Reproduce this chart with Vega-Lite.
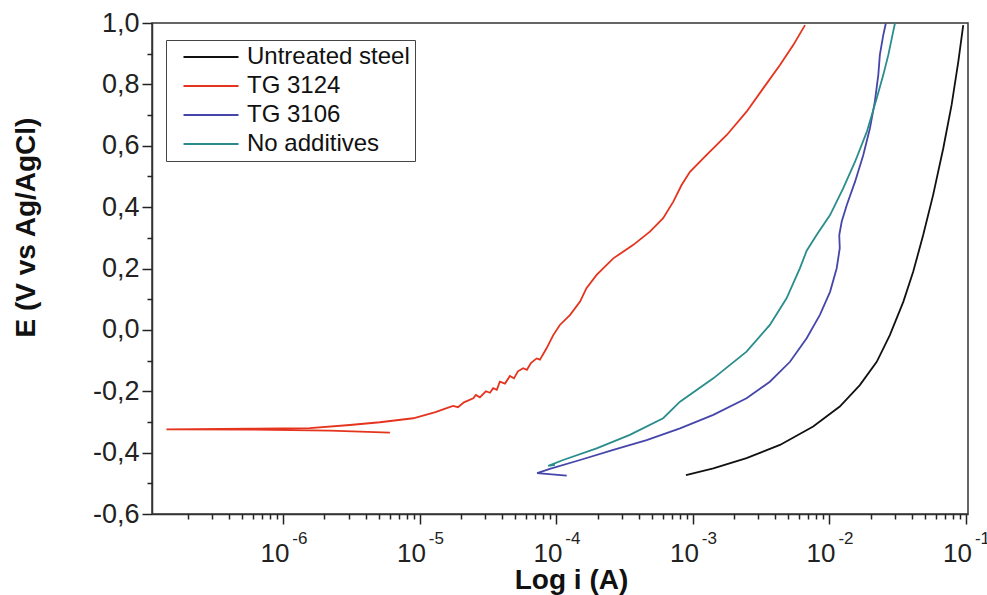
{
  "$schema": "https://vega.github.io/schema/vega-lite/v6.json",
  "width": 816,
  "height": 491,
  "autosize": {"type": "none"},
  "padding": {"left": 152, "top": 23, "right": 19, "bottom": 81},
  "background": "white",
  "config": {
    "font": "Liberation Sans",
    "view": {"stroke": "#333", "strokeWidth": 1.5},
    "axis": {"grid": false, "domainColor": "#333", "domainWidth": 1.5, "tickColor": "#222", "tickWidth": 1.5, "labelColor": "#222", "titleColor": "#111", "labelFlush": false, "labelOverlap": false}
  },
  "data": {"values": [
    {"s": "Untreated steel", "o": 1, "i": 8.89e-4, "E": -0.473},
    {"s": "Untreated steel", "o": 2, "i": 1.41e-3, "E": -0.451},
    {"s": "Untreated steel", "o": 3, "i": 2.47e-3, "E": -0.418},
    {"s": "Untreated steel", "o": 4, "i": 4.34e-3, "E": -0.375},
    {"s": "Untreated steel", "o": 5, "i": 7.60e-3, "E": -0.315},
    {"s": "Untreated steel", "o": 6, "i": 1.19e-2, "E": -0.250},
    {"s": "Untreated steel", "o": 7, "i": 1.67e-2, "E": -0.180},
    {"s": "Untreated steel", "o": 8, "i": 2.22e-2, "E": -0.104},
    {"s": "Untreated steel", "o": 9, "i": 2.77e-2, "E": -0.017},
    {"s": "Untreated steel", "o": 10, "i": 3.48e-2, "E": 0.092},
    {"s": "Untreated steel", "o": 11, "i": 4.11e-2, "E": 0.190},
    {"s": "Untreated steel", "o": 12, "i": 4.86e-2, "E": 0.309},
    {"s": "Untreated steel", "o": 13, "i": 5.75e-2, "E": 0.440},
    {"s": "Untreated steel", "o": 14, "i": 6.82e-2, "E": 0.592},
    {"s": "Untreated steel", "o": 15, "i": 7.85e-2, "E": 0.733},
    {"s": "Untreated steel", "o": 16, "i": 8.79e-2, "E": 0.874},
    {"s": "Untreated steel", "o": 17, "i": 9.55e-2, "E": 0.993},

    {"s": "TG 3124", "o": 1, "i": 6.03e-6, "E": -0.335},
    {"s": "TG 3124", "o": 2, "i": 2.19e-6, "E": -0.328},
    {"s": "TG 3124", "o": 3, "i": 5.69e-7, "E": -0.325},
    {"s": "TG 3124", "o": 4, "i": 1.39e-7, "E": -0.324},
    {"s": "TG 3124", "o": 5, "i": 5.69e-7, "E": -0.322},
    {"s": "TG 3124", "o": 6, "i": 1.56e-6, "E": -0.320},
    {"s": "TG 3124", "o": 7, "i": 3.07e-6, "E": -0.310},
    {"s": "TG 3124", "o": 8, "i": 5.09e-6, "E": -0.301},
    {"s": "TG 3124", "o": 9, "i": 8.93e-6, "E": -0.288},
    {"s": "TG 3124", "o": 10, "i": 1.30e-5, "E": -0.268},
    {"s": "TG 3124", "o": 11, "i": 1.57e-5, "E": -0.255},
    {"s": "TG 3124", "o": 12, "i": 1.75e-5, "E": -0.248},
    {"s": "TG 3124", "o": 13, "i": 1.90e-5, "E": -0.252},
    {"s": "TG 3124", "o": 14, "i": 2.10e-5, "E": -0.236},
    {"s": "TG 3124", "o": 15, "i": 2.46e-5, "E": -0.223},
    {"s": "TG 3124", "o": 16, "i": 2.57e-5, "E": -0.212},
    {"s": "TG 3124", "o": 17, "i": 2.75e-5, "E": -0.220},
    {"s": "TG 3124", "o": 18, "i": 3.04e-5, "E": -0.200},
    {"s": "TG 3124", "o": 19, "i": 3.26e-5, "E": -0.205},
    {"s": "TG 3124", "o": 20, "i": 3.44e-5, "E": -0.190},
    {"s": "TG 3124", "o": 21, "i": 3.66e-5, "E": -0.195},
    {"s": "TG 3124", "o": 22, "i": 3.85e-5, "E": -0.169},
    {"s": "TG 3124", "o": 23, "i": 4.20e-5, "E": -0.175},
    {"s": "TG 3124", "o": 24, "i": 4.56e-5, "E": -0.150},
    {"s": "TG 3124", "o": 25, "i": 4.89e-5, "E": -0.158},
    {"s": "TG 3124", "o": 26, "i": 5.22e-5, "E": -0.135},
    {"s": "TG 3124", "o": 27, "i": 5.71e-5, "E": -0.125},
    {"s": "TG 3124", "o": 28, "i": 6.08e-5, "E": -0.130},
    {"s": "TG 3124", "o": 29, "i": 6.50e-5, "E": -0.108},
    {"s": "TG 3124", "o": 30, "i": 7.16e-5, "E": -0.093},
    {"s": "TG 3124", "o": 31, "i": 7.57e-5, "E": -0.097},
    {"s": "TG 3124", "o": 32, "i": 8.47e-5, "E": -0.060},
    {"s": "TG 3124", "o": 33, "i": 9.48e-5, "E": -0.017},
    {"s": "TG 3124", "o": 34, "i": 1.06e-4, "E": 0.016},
    {"s": "TG 3124", "o": 35, "i": 1.26e-4, "E": 0.049},
    {"s": "TG 3124", "o": 36, "i": 1.49e-4, "E": 0.092},
    {"s": "TG 3124", "o": 37, "i": 1.66e-4, "E": 0.136},
    {"s": "TG 3124", "o": 38, "i": 1.97e-4, "E": 0.179},
    {"s": "TG 3124", "o": 39, "i": 2.61e-4, "E": 0.233},
    {"s": "TG 3124", "o": 40, "i": 3.66e-4, "E": 0.277},
    {"s": "TG 3124", "o": 41, "i": 4.84e-4, "E": 0.320},
    {"s": "TG 3124", "o": 42, "i": 6.05e-4, "E": 0.364},
    {"s": "TG 3124", "o": 43, "i": 7.18e-4, "E": 0.418},
    {"s": "TG 3124", "o": 44, "i": 8.26e-4, "E": 0.472},
    {"s": "TG 3124", "o": 45, "i": 9.51e-4, "E": 0.515},
    {"s": "TG 3124", "o": 46, "i": 1.26e-3, "E": 0.570},
    {"s": "TG 3124", "o": 47, "i": 1.77e-3, "E": 0.635},
    {"s": "TG 3124", "o": 48, "i": 2.47e-3, "E": 0.711},
    {"s": "TG 3124", "o": 49, "i": 3.27e-3, "E": 0.787},
    {"s": "TG 3124", "o": 50, "i": 4.34e-3, "E": 0.863},
    {"s": "TG 3124", "o": 51, "i": 5.43e-3, "E": 0.928},
    {"s": "TG 3124", "o": 52, "i": 6.62e-3, "E": 0.993},

    {"s": "TG 3106", "o": 1, "i": 1.19e-4, "E": -0.475},
    {"s": "TG 3106", "o": 2, "i": 7.22e-5, "E": -0.467},
    {"s": "TG 3106", "o": 3, "i": 8.95e-5, "E": -0.453},
    {"s": "TG 3106", "o": 4, "i": 1.49e-4, "E": -0.424},
    {"s": "TG 3106", "o": 5, "i": 2.61e-4, "E": -0.391},
    {"s": "TG 3106", "o": 6, "i": 4.58e-4, "E": -0.359},
    {"s": "TG 3106", "o": 7, "i": 8.04e-4, "E": -0.321},
    {"s": "TG 3106", "o": 8, "i": 1.41e-3, "E": -0.277},
    {"s": "TG 3106", "o": 9, "i": 2.47e-3, "E": -0.223},
    {"s": "TG 3106", "o": 10, "i": 3.66e-3, "E": -0.169},
    {"s": "TG 3106", "o": 11, "i": 5.14e-3, "E": -0.104},
    {"s": "TG 3106", "o": 12, "i": 6.81e-3, "E": -0.027},
    {"s": "TG 3106", "o": 13, "i": 8.51e-3, "E": 0.049},
    {"s": "TG 3106", "o": 14, "i": 1.01e-2, "E": 0.124},
    {"s": "TG 3106", "o": 15, "i": 1.13e-2, "E": 0.201},
    {"s": "TG 3106", "o": 16, "i": 1.19e-2, "E": 0.266},
    {"s": "TG 3106", "o": 17, "i": 1.18e-2, "E": 0.309},
    {"s": "TG 3106", "o": 18, "i": 1.23e-2, "E": 0.353},
    {"s": "TG 3106", "o": 19, "i": 1.34e-2, "E": 0.407},
    {"s": "TG 3106", "o": 20, "i": 1.54e-2, "E": 0.483},
    {"s": "TG 3106", "o": 21, "i": 1.77e-2, "E": 0.570},
    {"s": "TG 3106", "o": 22, "i": 1.98e-2, "E": 0.657},
    {"s": "TG 3106", "o": 23, "i": 2.15e-2, "E": 0.744},
    {"s": "TG 3106", "o": 24, "i": 2.28e-2, "E": 0.831},
    {"s": "TG 3106", "o": 25, "i": 2.34e-2, "E": 0.896},
    {"s": "TG 3106", "o": 26, "i": 2.48e-2, "E": 0.961},
    {"s": "TG 3106", "o": 27, "i": 2.59e-2, "E": 0.999},

    {"s": "No additives", "o": 1, "i": 9.75e-5, "E": -0.440},
    {"s": "No additives", "o": 2, "i": 8.71e-5, "E": -0.443},
    {"s": "No additives", "o": 3, "i": 1.12e-4, "E": -0.424},
    {"s": "No additives", "o": 4, "i": 1.97e-4, "E": -0.386},
    {"s": "No additives", "o": 5, "i": 3.45e-4, "E": -0.342},
    {"s": "No additives", "o": 6, "i": 6.05e-4, "E": -0.288},
    {"s": "No additives", "o": 7, "i": 8.04e-4, "E": -0.234},
    {"s": "No additives", "o": 8, "i": 1.41e-3, "E": -0.158},
    {"s": "No additives", "o": 9, "i": 2.47e-3, "E": -0.071},
    {"s": "No additives", "o": 10, "i": 3.66e-3, "E": 0.016},
    {"s": "No additives", "o": 11, "i": 4.85e-3, "E": 0.103},
    {"s": "No additives", "o": 12, "i": 6.08e-3, "E": 0.201},
    {"s": "No additives", "o": 13, "i": 6.81e-3, "E": 0.258},
    {"s": "No additives", "o": 14, "i": 8.05e-3, "E": 0.309},
    {"s": "No additives", "o": 15, "i": 1.01e-2, "E": 0.374},
    {"s": "No additives", "o": 16, "i": 1.26e-2, "E": 0.461},
    {"s": "No additives", "o": 17, "i": 1.54e-2, "E": 0.548},
    {"s": "No additives", "o": 18, "i": 1.88e-2, "E": 0.646},
    {"s": "No additives", "o": 19, "i": 2.22e-2, "E": 0.755},
    {"s": "No additives", "o": 20, "i": 2.48e-2, "E": 0.831},
    {"s": "No additives", "o": 21, "i": 2.70e-2, "E": 0.896},
    {"s": "No additives", "o": 22, "i": 2.93e-2, "E": 0.972},
    {"s": "No additives", "o": 23, "i": 3.02e-2, "E": 0.999}
  ]},
  "layer": [
    {
      "mark": {"type": "line", "strokeWidth": 1.8, "clip": true},
      "encoding": {
        "x": {"field": "i", "type": "quantitative",
          "scale": {"type": "log", "domain": [1.09e-7, 0.1035], "nice": false},
          "axis": {"orient": "bottom", "values": [1e-6, 1e-5, 1e-4, 1e-3, 1e-2, 1e-1], "labelExpr": "'10'", "labelFontSize": 26, "labelBaseline": "alphabetic", "labelPadding": 37, "labelOffset": -9, "ticks": true, "tickSize": 10, "tickOpacity": 1,
            "title": "Log i (A)", "titleFontSize": 28, "titleFontWeight": "bold", "titleX": 419, "titleY": 74, "titleBaseline": "alphabetic", "titleAlign": "center"}},
        "y": {"field": "E", "type": "quantitative",
          "scale": {"domain": [-0.6, 1.0], "nice": false, "zero": false},
          "axis": {"orient": "left", "values": [-0.6, -0.4, -0.2, 0, 0.2, 0.4, 0.6, 0.8, 1.0], "labelExpr": "replace(replace(format(datum.value, '.1f'), '.', ','), '\u2212', '-')", "labelFontSize": 27, "labelPadding": 3, "ticks": true, "tickSize": 10, "tickOpacity": 1,
            "title": "E (V vs Ag/AgCl)", "titleFontSize": 28, "titleFontWeight": "bold", "titleX": -126, "titleY": 204, "titleBaseline": "middle", "titleAlign": "center"}},
        "color": {"field": "s", "type": "nominal",
          "scale": {"domain": ["Untreated steel", "TG 3124", "TG 3106", "No additives"], "range": ["#111111", "#e5341d", "#4646aa", "#2a8c8c"]},
          "legend": {"orient": "none", "legendX": 14, "legendY": 17, "title": null, "strokeColor": "#444", "fillColor": "white", "padding": 5, "symbolType": "M-2.5,0H2.5", "symbolSize": 484, "symbolStrokeWidth": 2, "symbolOffset": 28, "labelOffset": 24, "labelFontSize": 24, "rowPadding": 5, "labelColor": "#111", "labelLimit": 300}},
        "order": {"field": "o", "type": "quantitative"}
      }
    },
    {
      "mark": {"type": "line", "strokeOpacity": 0},
      "encoding": {
        "x": {"field": "i", "type": "quantitative",
          "scale": {"type": "log", "domain": [1.09e-7, 0.1035], "nice": false},
          "axis": {"orient": "bottom", "values": [1e-6, 1e-5, 1e-4, 1e-3, 1e-2, 1e-1], "labelExpr": "'-' + round(-log(datum.value) / LN10)", "labelFontSize": 17, "labelBaseline": "alphabetic", "labelPadding": 19, "labelOffset": 16, "tickSize": 10, "tickOpacity": 0, "domain": false, "title": null}},
        "y": {"field": "E", "type": "quantitative",
          "scale": {"domain": [-0.6, 1.0], "nice": false, "zero": false},
          "axis": {"orient": "left", "values": [-0.5, -0.3, -0.1, 0.1, 0.3, 0.5, 0.7, 0.9], "labels": false, "tickSize": 5, "domain": false, "title": null}},
        "detail": {"field": "s"},
        "order": {"field": "o", "type": "quantitative"}
      }
    },
    {
      "mark": {"type": "line", "strokeOpacity": 0},
      "encoding": {
        "x": {"field": "i", "type": "quantitative",
          "scale": {"type": "log", "domain": [1.09e-7, 0.1035], "nice": false},
          "axis": {"orient": "bottom", "values": [2e-7, 3e-7, 4e-7, 5e-7, 6e-7, 7e-7, 8e-7, 9e-7, 2e-6, 3e-6, 4e-6, 5e-6, 6e-6, 7e-6, 8e-6, 9e-6, 2e-5, 3e-5, 4e-5, 5e-5, 6e-5, 7e-5, 8e-5, 9e-5, 2e-4, 3e-4, 4e-4, 5e-4, 6e-4, 7e-4, 8e-4, 9e-4, 2e-3, 3e-3, 4e-3, 5e-3, 6e-3, 7e-3, 8e-3, 9e-3, 2e-2, 3e-2, 4e-2, 5e-2, 6e-2, 7e-2, 8e-2, 9e-2], "labels": false, "tickSize": 5, "domain": false, "title": null}},
        "y": {"field": "E", "type": "quantitative",
          "scale": {"domain": [-0.6, 1.0], "nice": false, "zero": false},
          "axis": null},
        "detail": {"field": "s"},
        "order": {"field": "o", "type": "quantitative"}
      }
    }
  ],
  "resolve": {"axis": {"x": "independent", "y": "independent"}}
}
